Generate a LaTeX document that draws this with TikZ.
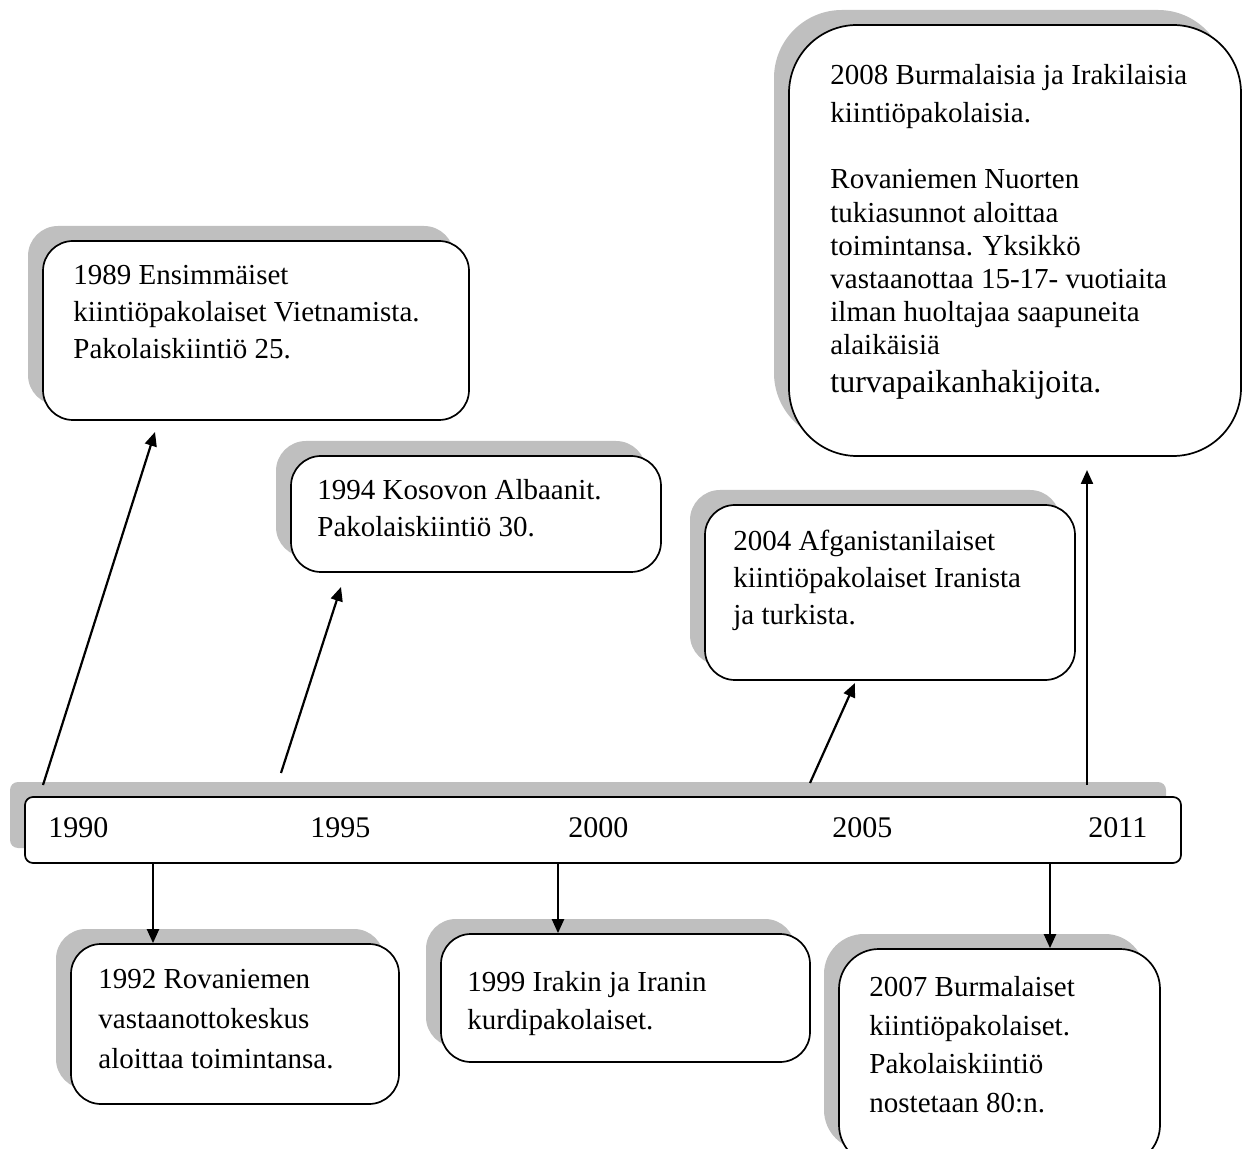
\documentclass[tikz,border=0pt]{standalone}
\usepackage{fontspec}
\setmainfont{Liberation Serif}
\usetikzlibrary{shadows,arrows.meta}

\begin{document}
\begin{tikzpicture}[x=0.5pt, y=-0.5pt,
    evbox/.style={draw, line width=0.85pt, fill=white, rounded corners=15pt, inner sep=0pt,
      general shadow={fill=black!25, shadow xshift=-7.5pt, shadow yshift=7.5pt}},
    evtext/.style={anchor=north west, inner sep=0pt, align=left,
      font=\fontsize{14.5}{18.5}\selectfont},
    year/.style={anchor=base west, inner sep=0pt, font=\fontsize{15}{17}\selectfont},
    arr/.style={line width=1.1pt, -{Triangle[length=7pt,width=6pt]}}]
  \useasboundingbox (0,0) rectangle (1248,1149);
  \clip (0,0) rectangle (1248,1149);
  % timeline bar
  \node[evbox, rounded corners=4pt, minimum width=578pt, minimum height=33pt] (bar) at (603,830) {};
  \node[year] (y90) at (48,837) {1990};
  \node[year] (y95) at (310,837) {1995};
  \node[year] (y00) at (568,837) {2000};
  \node[year] (y05) at (832,837) {2005};
  \node[year] (y11) at (1088,837) {2011};
  % events above
  \node[evbox, minimum width=213pt, minimum height=89.5pt] (b89) at (256,330.5) {};
  \node[evtext] (t89) at (73,265) {1989 Ensimmäiset\\kiintiöpakolaiset Vietnamista.\\Pakolaiskiintiö 25.};
  \node[evbox, minimum width=185pt, minimum height=58pt] (b94) at (476,514) {};
  \node[evtext] (t94) at (317,479) {1994 Kosovon Albaanit.\\Pakolaiskiintiö 30.};
  \node[evbox, minimum width=185pt, minimum height=87.5pt] (b04) at (890,592.5) {};
  \node[evtext] (t04) at (733,530) {2004 Afganistanilaiset\\kiintiöpakolaiset Iranista\\ja turkista.};
  \node[evbox, rounded corners=34pt, minimum width=226pt, minimum height=215.5pt] (b08) at (1015,240.5) {};
  \node[evtext, font=\fontsize{14.5}{16.6}\selectfont] (t08) at (830,64) {2008 Burmalaisia ja Irakilaisia\\[2.4pt]
    kiintiöpakolaisia.\\[16.6pt]
    Rovaniemen Nuorten\\tukiasunnot aloittaa\\toimintansa. Yksikkö\\vastaanottaa 15-17- vuotiaita\\
    ilman huoltajaa saapuneita\\alaikäisiä\\[2pt]{\fontsize{16}{17}\selectfont turvapaikanhakijoita.}};
  % events below
  \node[evbox, minimum width=164pt, minimum height=80pt] (b92) at (235,1024) {};
  \node[evtext, font=\fontsize{14.5}{20}\selectfont] (t92) at (98,969) {1992 Rovaniemen\\vastaanottokeskus\\aloittaa toimintansa.};
  \node[evbox, minimum width=184.5pt, minimum height=64pt] (b99) at (625.5,998) {};
  \node[evtext, font=\fontsize{14.5}{19}\selectfont] (t99) at (467,971) {1999 Irakin ja Iranin\\kurdipakolaiset.};
  \node[evbox, rounded corners=20pt, minimum width=160.5pt, minimum height=108pt] (b07) at (999.5,1057) {};
  \node[evtext, font=\fontsize{14.5}{19.3}\selectfont] (t07) at (869,976) {2007 Burmalaiset\\kiintiöpakolaiset.\\Pakolaiskiintiö\\nostetaan 80:n.};
  % connectors
  \coordinate (s89) at (43,785);
  \coordinate (e89) at (155,432);
  \coordinate (s94) at (281,773);
  \coordinate (e94) at (341,587);
  \coordinate (s04) at (810,783);
  \coordinate (e04) at (855,683);
  \coordinate (s08) at (1087,785);
  \coordinate (e08) at (1087,470);
  \draw[arr] (s89) -- (e89);
  \draw[arr] (s94) -- (e94);
  \draw[arr] (s04) -- (e04);
  \draw[arr] (s08) -- (e08);
  \coordinate (d92) at (153,0);
  \coordinate (d99) at (558,0);
  \coordinate (d07) at (1050,0);
  \draw[arr] (bar.south -| d92) -- (b92.north -| d92);
  \draw[arr] (bar.south -| d99) -- (b99.north -| d99);
  \draw[arr] (bar.south -| d07) -- (b07.north -| d07);
\end{tikzpicture}
\end{document}
